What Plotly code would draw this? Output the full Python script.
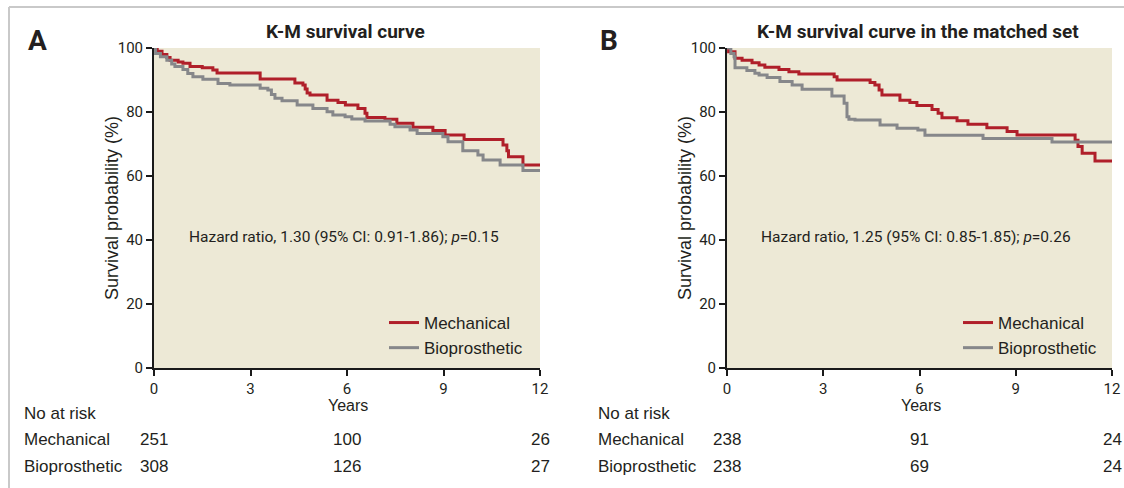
import plotly.graph_objects as go

# ---------------- data ----------------
# Panel A: whole cohort
a_mech_t = [0, 0.1, 0.25, 0.4, 0.5, 0.75, 0.9, 1.12, 1.5, 1.83, 1.96, 3.3, 4.38, 4.63, 4.7, 4.76, 4.85,
            5.38, 5.72, 5.95, 6.34, 6.56, 6.62, 7.18, 7.55, 8.05, 8.67, 9.05, 9.64, 10.85, 10.97, 11.02,
            11.47, 12]
a_mech_s = [100, 99, 98, 97, 96.2, 95.6, 95.2, 94.2, 93.8, 93.1, 92.2, 90.3, 89.1, 88.4, 87.2, 85.9, 85.3,
            83.7, 83.0, 82.2, 81.1, 79.6, 78.3, 77.7, 76.5, 75.2, 74.2, 72.8, 71.4, 69.7, 67.9, 66.0,
            63.4, 63.4]
a_bio_t = [0, 0.05, 0.2, 0.4, 0.55, 0.65, 0.9, 1.05, 1.21, 1.52, 1.99, 2.36, 3.3, 3.54, 3.65, 3.76, 3.98,
           4.45, 4.94, 5.38, 5.56, 5.94, 6.15, 6.56, 7.34, 7.49, 7.96, 8.18, 8.98, 9.14, 9.6, 10.07,
           10.23, 10.76, 11.47, 12]
a_bio_s = [100, 98.3, 97.3, 96.2, 95.0, 94.2, 93.3, 92.0, 91.0, 90.2, 88.9, 88.4, 87.4, 86.9, 85.5, 84.3, 83.5,
           82.2, 81.1, 80.1, 79.1, 78.5, 77.8, 77.2, 76.2, 75.4, 74.4, 73.3, 72.3, 70.7, 67.9, 66.6,
           65.0, 63.4, 61.7, 61.7]

# Panel B: matched set
b_mech_t = [0, 0.05, 0.25, 0.47, 0.78, 1.0, 1.18, 1.62, 1.93, 2.24, 3.34, 3.43, 4.46, 4.61, 4.74, 4.83,
            5.39, 5.7, 5.92, 6.39, 6.58, 6.7, 7.17, 7.51, 8.1, 8.73, 9.04, 10.85, 10.94, 11.07, 11.47, 12]
b_mech_s = [100, 98.8, 96.8, 96.2, 95.4, 94.7, 94.0, 93.3, 92.6, 91.9, 91.0, 90.0, 89.2, 88.4, 86.9, 85.3,
            83.7, 83.0, 82.0, 80.8, 79.6, 78.2, 77.3, 76.2, 75.1, 73.9, 72.8, 71.2, 69.2, 67.1, 64.7, 64.7]
b_bio_t = [0, 0.12, 0.22, 0.25, 0.62, 0.87, 1.0, 1.25, 1.65, 2.03, 2.34, 3.27, 3.65, 3.74, 3.8, 3.99,
           4.77, 5.3, 5.95, 6.17, 7.98, 10.13, 12]
b_bio_s = [100, 98.3, 97.3, 93.8, 93.0, 92.1, 91.6, 90.8, 89.5, 88.4, 87.1, 85.0, 82.7, 78.5, 77.7, 77.5,
           75.9, 74.9, 74.4, 72.7, 71.7, 70.6, 70.6]

x_ticks = [0, 3, 6, 9, 12]
y_ticks = [0, 20, 40, 60, 80, 100]

risk_times = [0, 6, 12]
a_risk_mech = [251, 100, 26]
a_risk_bio = [308, 126, 27]
b_risk_mech = [238, 91, 24]
b_risk_bio = [238, 69, 24]

panel_letters = ["A", "B"]
panel_titles = ["K-M survival curve", "K-M survival curve in the matched set"]
hr_texts = ["Hazard ratio, 1.30 (95% CI: 0.91-1.86); <i>p</i>=0.15",
            "Hazard ratio, 1.25 (95% CI: 0.85-1.85); <i>p</i>=0.26"]
series_names = ["Mechanical", "Bioprosthetic"]

# ---------------- style ----------------
W, H = 1124, 488
RED = "#B01F2A"
GREY = "#86878A"
BG = "#EDE9D6"
TXT = "#231F20"
COND = "Roboto, Liberation Sans, Arial, sans-serif"
REG = "Liberation Sans, Arial, Helvetica, sans-serif"


def px_x(p):
    return p / W


def px_y(p):
    return (H - p) / H


fig = go.Figure()

panels = [
    dict(xa="x", ya="y", leg="legend", mech=(a_mech_t, a_mech_s), bio=(a_bio_t, a_bio_s),
         rm=a_risk_mech, rb=a_risk_bio, left=154, right=540, txtx=22, lettx=26),
    dict(xa="x2", ya="y2", leg="legend2", mech=(b_mech_t, b_mech_s), bio=(b_bio_t, b_bio_s),
         rm=b_risk_mech, rb=b_risk_bio, left=727, right=1112, txtx=596, lettx=598),
]

for i, p in enumerate(panels):
    fig.add_trace(go.Scatter(x=p["mech"][0], y=p["mech"][1], mode="lines", line_shape="hv",
                             line=dict(color=RED, width=3), name=series_names[0],
                             xaxis=p["xa"], yaxis=p["ya"], legend=p["leg"]))
    fig.add_trace(go.Scatter(x=p["bio"][0], y=p["bio"][1], mode="lines", line_shape="hv",
                             line=dict(color=GREY, width=3), name=series_names[1],
                             xaxis=p["xa"], yaxis=p["ya"], legend=p["leg"]))

axis_common = dict(showline=True, linecolor="#1a1a1a", linewidth=2, ticks="outside", ticklen=6,
                   tickwidth=1.5, tickcolor="#1a1a1a", showgrid=False, zeroline=False,
                   automargin=False, fixedrange=True,
                   tickfont=dict(family=COND, size=15, color=TXT))

y0, y1 = px_y(368), px_y(48)
leg_common = dict(xanchor="left", yanchor="top", bgcolor="rgba(0,0,0,0)",
                  font=dict(family=REG, size=17, color=TXT), tracegroupgap=0, itemwidth=30)
fig.update_layout(
    width=W, height=H, margin=dict(l=0, r=0, t=0, b=0, autoexpand=False),
    paper_bgcolor="white", plot_bgcolor=BG,
    xaxis=dict(domain=[px_x(154), px_x(540)], range=[0, 12], tickvals=x_ticks, anchor="y", **axis_common),
    yaxis=dict(domain=[y0, y1], range=[0, 100], tickvals=y_ticks, anchor="x", **axis_common),
    xaxis2=dict(domain=[px_x(727), px_x(1112)], range=[0, 12], tickvals=x_ticks, anchor="y2", **axis_common),
    yaxis2=dict(domain=[y0, y1], range=[0, 100], tickvals=y_ticks, anchor="x2", **axis_common),
    legend=dict(x=px_x(384), y=px_y(305), **leg_common),
    legend2=dict(x=px_x(958), y=px_y(305), **leg_common),
)

annotations = []
for i, p in enumerate(panels):
    cx = (p["left"] + p["right"]) / 2
    # panel letter
    annotations.append(dict(text="<b>%s</b>" % panel_letters[i], xref="paper", yref="paper",
                            x=px_x(p["lettx"]), y=px_y(41), xanchor="left", yanchor="middle",
                            showarrow=False, font=dict(family=COND, size=28, color=TXT)))
    # title
    annotations.append(dict(text="<b>%s</b>" % panel_titles[i], xref="paper", yref="paper",
                            x=px_x(cx - 2), y=px_y(32), xanchor="center", yanchor="middle",
                            showarrow=False, font=dict(family=COND, size=19, color=TXT)))
    # axis titles
    annotations.append(dict(text="Survival probability (%)", xref="paper", yref="paper",
                            x=px_x(p["left"] - 42), y=px_y(208), xanchor="center", yanchor="middle",
                            textangle=-90, showarrow=False, font=dict(family=REG, size=18, color=TXT)))
    annotations.append(dict(text="Years", xref="paper", yref="paper",
                            x=px_x(cx + 1), y=px_y(405), xanchor="center", yanchor="middle",
                            showarrow=False, font=dict(family=REG, size=16, color=TXT)))
    # hazard ratio
    annotations.append(dict(text=hr_texts[i], xref=p["xa"], yref=p["ya"], x=5.9, y=41,
                            xanchor="center", yanchor="middle", showarrow=False,
                            font=dict(family=COND, size=15.5, color=TXT)))
    # risk table
    annotations.append(dict(text="No at risk", xref="paper", yref="paper", x=px_x(p["txtx"]),
                            y=px_y(413), xanchor="left", yanchor="middle", showarrow=False,
                            font=dict(family=REG, size=17, color=TXT)))
    for row, (nm, vals) in enumerate([(series_names[0], p["rm"]), (series_names[1], p["rb"])]):
        yy = px_y(439 + 27 * row)
        annotations.append(dict(text=nm, xref="paper", yref="paper", x=px_x(p["txtx"]), y=yy,
                                xanchor="left", yanchor="middle", showarrow=False,
                                font=dict(family=REG, size=17, color=TXT)))
        for t, v in zip(risk_times, vals):
            annotations.append(dict(text=str(v), xref=p["xa"], yref="paper", x=t, y=yy,
                                    xanchor="center", yanchor="middle", showarrow=False,
                                    font=dict(family=REG, size=17, color=TXT)))

fig.update_layout(annotations=annotations)

# light frame (top and left edges)
fig.add_shape(type="line", xref="paper", yref="paper", x0=px_x(9), x1=1, y0=px_y(7), y1=px_y(7),
              line=dict(color="#C9C9C9", width=2))
fig.add_shape(type="line", xref="paper", yref="paper", x0=px_x(9), x1=px_x(9), y0=0, y1=px_y(7),
              line=dict(color="#C9C9C9", width=2))

fig.write_html("out.html", config={"displayModeBar": False})
